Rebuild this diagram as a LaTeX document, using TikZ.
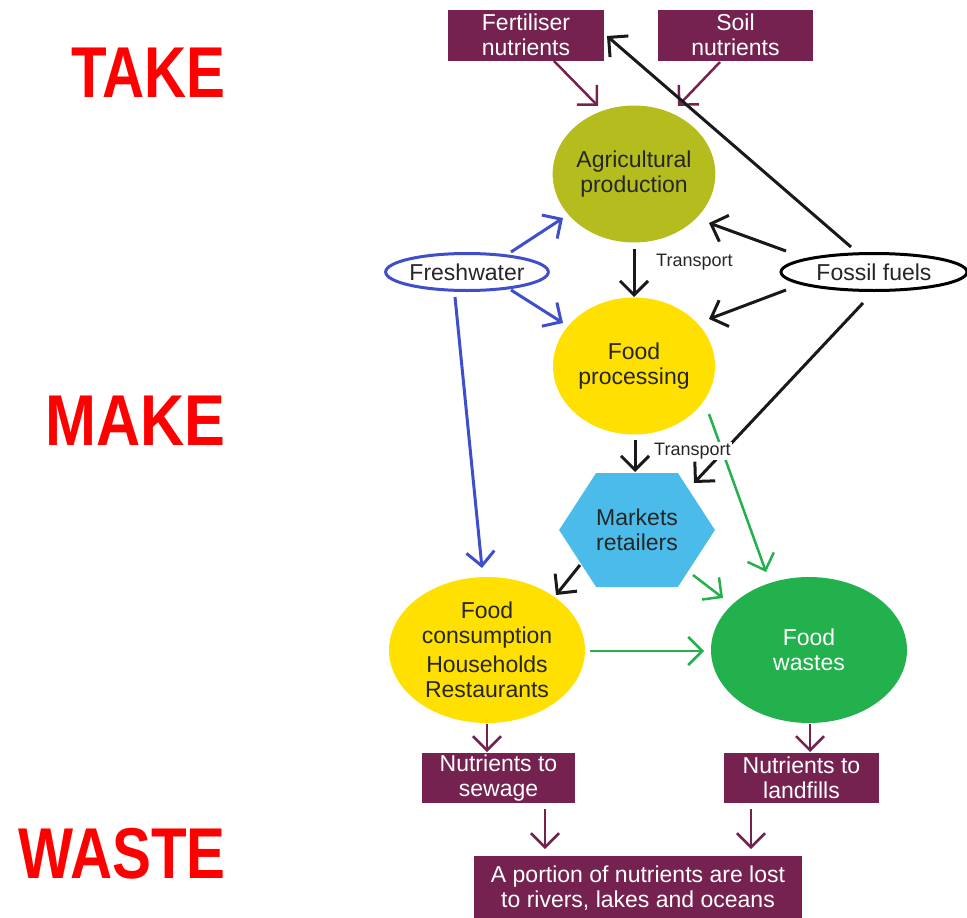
\documentclass[tikz,border=0pt]{standalone}
\usepackage{fontspec}
\usepackage{graphicx}
\setmainfont{Liberation Sans}
\usetikzlibrary{shapes.geometric,shapes.symbols,arrows.meta,calc}

\definecolor{plum}{RGB}{118,34,80}
\definecolor{agrigreen}{RGB}{181,189,30}
\definecolor{foodyellow}{RGB}{255,224,0}
\definecolor{marketblue}{RGB}{75,188,234}
\definecolor{wastegreen}{RGB}{34,177,76}
\definecolor{waterblue}{RGB}{63,79,203}
\definecolor{stagered}{RGB}{255,0,0}

\tikzset{
  box/.style={rectangle, fill=plum, text=white, align=center, inner sep=0pt,
    font=\fontsize{23}{25}\selectfont},
  blob/.style={ellipse, align=center, inner sep=0pt, text=black!85,
    font=\fontsize{23}{25}\selectfont},
  source/.style={ellipse, line width=3pt, fill=white, inner sep=0pt, text=black!85,
    font=\fontsize{23}{25}\selectfont},
  stage/.style={anchor=base east, inner sep=0pt, text=stagered,
    font=\fontsize{72}{72}\selectfont\bfseries},
  lbl/.style={inner sep=1pt, text=black!85, font=\fontsize{18}{20}\selectfont},
  barb/.style={-{Straight Barb[length=14pt,width=28pt]}},
  blk/.style={barb, line width=3pt, draw=black!90},
  pur/.style={barb, line width=2.5pt, draw=plum},
  wat/.style={barb, line width=3pt, draw=waterblue},
  grn/.style={barb, line width=2.5pt, draw=wastegreen}
}

\begin{document}
\begin{tikzpicture}[x=1pt,y=-1pt]
  \useasboundingbox (0,0) rectangle (967,918);

  \node[stage] (take) at (226,97) {\scalebox{0.81}[1]{TAKE}};
  \node[stage] (make) at (226,445) {\scalebox{0.85}[1]{MAKE}};
  \node[stage] (wasteword) at (226,878) {\scalebox{0.81}[1]{WASTE}};

  \node[box, minimum width=156pt, minimum height=51pt] (fert) at (526,35) {Fertiliser\\nutrients};
  \node[box, minimum width=155pt, minimum height=51pt] (soil) at (735.5,35) {Soil\\nutrients};
  \node[blob, fill=agrigreen, minimum width=162pt, minimum height=137pt] (agri) at (634,174) {Agricultural\\production};
  \node[source, draw=waterblue, minimum width=161pt, minimum height=37pt] (fresh) at (467,272) {Freshwater};
  \node[source, draw=black, minimum width=186pt, minimum height=37pt] (fossil) at (874,272) {Fossil fuels};
  \node[blob, fill=foodyellow, minimum width=162pt, minimum height=137pt] (proc) at (634,366) {Food\\processing};
  \node[signal, signal to=west and east, signal pointer angle=114, fill=marketblue,
    minimum width=153pt, minimum height=114pt, inner sep=0pt, align=center, text=black!85,
    font=\fontsize{23}{25}\selectfont] (mkt) at (637,530) {Markets\\retailers};
  \node[blob, fill=foodyellow, minimum width=196pt, minimum height=146pt] (cons) at (487,650) {Food\\consumption\\[4pt]Households\\Restaurants};
  \node[blob, fill=wastegreen, text=white, minimum width=196pt, minimum height=146pt] (waste) at (809,650) {Food\\wastes};
  \node[box, minimum width=153pt, minimum height=50pt] (sew) at (498.5,778) {Nutrients to\\sewage};
  \node[box, minimum width=155pt, minimum height=50pt] (land) at (801.5,778) {Nutrients to\\landfills};
  \node[box, minimum width=328pt, minimum height=64pt] (lost) at (638,888) {A portion of nutrients are lost\\to rivers, lakes and oceans};

  \node[lbl, anchor=west] (tr1) at (655,262) {Transport};

  \draw[pur] ($(fert)+(28,26)$) -- ($(agri)+(-36,-68)$);
  \draw[pur] ($(soil)+(-15.5,27)$) -- ($(agri)+(44,-68)$);
  \draw[blk] ($(fossil)+(-23,-25)$) -- ($(fert)+(81,1)$);
  \draw[blk] ($(fossil)+(-88,-21)$) -- ($(agri)+(75,49)$);
  \draw[wat] ($(fresh)+(44,-20)$) -- ($(agri)+(-71,44)$);
  \draw[blk] ($(agri)+(0,75)$) -- ($(proc)+(0,-69)$);
  \draw[wat] ($(fresh)+(44,18)$) -- ($(proc)+(-71,-43)$);
  \draw[blk] ($(fossil)+(-88,18)$) -- ($(proc)+(75,-47)$);
  \draw[wat] ($(fresh)+(-12,25)$) -- ($(cons)+(-5,-82)$);
  \draw[blk] ($(fossil)+(-11,31)$) -- ($(mkt)+(57,-47)$);
  \draw[grn] ($(proc)+(75,48)$) -- ($(waste)+(-43,-78)$);
  \draw[blk] ($(proc)+(1,74)$) -- ($(mkt)+(-2,-58)$);
  \draw[blk] ($(mkt)+(-57,35)$) -- ($(cons)+(69,-55)$);
  \draw[grn] ($(mkt)+(56,45)$) -- ($(waste)+(-86,-52)$);
  \draw[grn] ($(cons)+(103,1)$) -- ($(waste)+(-105,1)$);
  \draw[pur] ($(cons)+(0,74)$) -- ($(sew)+(-11.5,-26)$);
  \draw[pur] ($(waste)+(1,74)$) -- ($(land)+(8.5,-26)$);
  \draw[pur] ($(sew)+(46.5,31)$) -- ($(lost)+(-93,-39)$);
  \draw[pur] ($(land)+(-50.5,31)$) -- ($(lost)+(113,-39)$);

  \node[lbl, anchor=west, fill=white] (tr2) at (653,451) {Transport};
\end{tikzpicture}
\end{document}
